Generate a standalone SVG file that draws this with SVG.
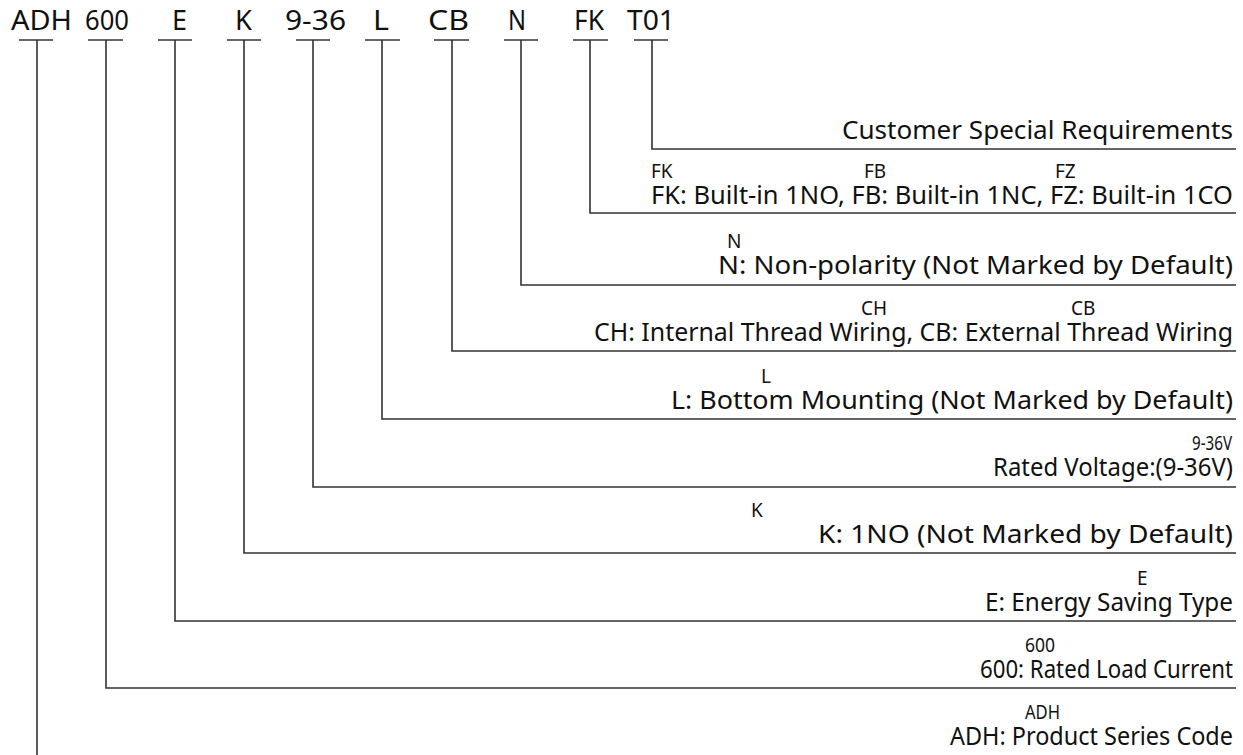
<svg xmlns="http://www.w3.org/2000/svg" width="1243" height="755" viewBox="0 0 1243 755">
<style>
.code{font-family:"Noto Sans","Open Sans",sans-serif;font-size:27px;fill:#111}
.lbl{font-family:"Noto Sans","Open Sans",sans-serif;font-size:25px;fill:#111;text-anchor:end}
.sm{font-family:"Noto Sans","Open Sans",sans-serif;font-size:19px;fill:#111}
.ul{stroke:#333;stroke-width:1.5;fill:none}
.con{stroke:#333;stroke-width:1.6;fill:none}
</style>
<rect width="1243" height="755" fill="#fff"/>
<g id="codes">
<g id="code-adh"><text class="code" x="11" y="30" textLength="61" lengthAdjust="spacingAndGlyphs">ADH</text><line class="ul" x1="19" y1="40" x2="53" y2="40"/></g>
<g id="code-600"><text class="code" x="85" y="30" textLength="44" lengthAdjust="spacingAndGlyphs">600</text><line class="ul" x1="88" y1="40" x2="123" y2="40"/></g>
<g id="code-e"><text class="code" x="172" y="30" textLength="15" lengthAdjust="spacingAndGlyphs">E</text><line class="ul" x1="158" y1="40" x2="192" y2="40"/></g>
<g id="code-k"><text class="code" x="235" y="30" textLength="17" lengthAdjust="spacingAndGlyphs">K</text><line class="ul" x1="227" y1="40" x2="261" y2="40"/></g>
<g id="code-936"><text class="code" x="285" y="30" textLength="61" lengthAdjust="spacingAndGlyphs">9-36</text><line class="ul" x1="296" y1="40" x2="330" y2="40"/></g>
<g id="code-l"><text class="code" x="373" y="30" textLength="16" lengthAdjust="spacingAndGlyphs">L</text><line class="ul" x1="365" y1="40" x2="400" y2="40"/></g>
<g id="code-cb"><text class="code" x="428" y="30" textLength="41" lengthAdjust="spacingAndGlyphs">CB</text><line class="ul" x1="434" y1="40" x2="469" y2="40"/></g>
<g id="code-n"><text class="code" x="508" y="30" textLength="18" lengthAdjust="spacingAndGlyphs">N</text><line class="ul" x1="504" y1="40" x2="538" y2="40"/></g>
<g id="code-fk"><text class="code" x="574" y="30" textLength="30" lengthAdjust="spacingAndGlyphs">FK</text><line class="ul" x1="573" y1="40" x2="608" y2="40"/></g>
<g id="code-t01"><text class="code" x="627" y="30" textLength="48" lengthAdjust="spacingAndGlyphs">T01</text><line class="ul" x1="634" y1="40" x2="668" y2="40"/></g>
</g>
<g id="connectors">
<polyline class="con" points="652,40 652,149 1236,149"/>
<polyline class="con" points="590,40 590,213 1236,213"/>
<polyline class="con" points="521,40 521,285 1236,285"/>
<polyline class="con" points="452,40 452,351 1236,351"/>
<polyline class="con" points="382,40 382,419 1236,419"/>
<polyline class="con" points="313,40 313,487 1236,487"/>
<polyline class="con" points="244,40 244,553 1236,553"/>
<polyline class="con" points="175,40 175,621 1236,621"/>
<polyline class="con" points="106,40 106,688 1236,688"/>
<polyline class="con" points="37,40 37,760 1236,760"/>
</g>
<g id="label-t01"><text class="lbl" x="1233" y="139" textLength="391" lengthAdjust="spacingAndGlyphs">Customer Special Requirements</text></g>
<g id="label-fk">
<text class="sm" x="651" y="178">FK</text><text class="sm" x="864" y="178">FB</text><text class="sm" x="1055" y="178">FZ</text>
<text class="lbl" x="1233" y="204" textLength="582" lengthAdjust="spacingAndGlyphs">FK: Built-in 1NO, FB: Built-in 1NC, FZ: Built-in 1CO</text></g>
<g id="label-n"><text class="sm" x="727" y="248">N</text>
<text class="lbl" x="1233" y="274" textLength="515" lengthAdjust="spacingAndGlyphs">N: Non-polarity (Not Marked by Default)</text></g>
<g id="label-cb"><text class="sm" x="861" y="315">CH</text><text class="sm" x="1071" y="315">CB</text>
<text class="lbl" x="1233" y="341" textLength="639" lengthAdjust="spacingAndGlyphs">CH: Internal Thread Wiring, CB: External Thread Wiring</text></g>
<g id="label-l"><text class="sm" x="761" y="383">L</text>
<text class="lbl" x="1233" y="409" textLength="562" lengthAdjust="spacingAndGlyphs">L: Bottom Mounting (Not Marked by Default)</text></g>
<g id="label-936"><text class="sm" x="1192" y="450" textLength="40" lengthAdjust="spacingAndGlyphs">9-36V</text>
<text class="lbl" x="1233" y="476" textLength="240" lengthAdjust="spacingAndGlyphs">Rated Voltage:(9-36V)</text></g>
<g id="label-k"><text class="sm" x="751" y="517">K</text>
<text class="lbl" x="1233" y="543" textLength="415" lengthAdjust="spacingAndGlyphs">K: 1NO (Not Marked by Default)</text></g>
<g id="label-e"><text class="sm" x="1137" y="585">E</text>
<text class="lbl" x="1233" y="611" textLength="248" lengthAdjust="spacingAndGlyphs">E: Energy Saving Type</text></g>
<g id="label-600"><text class="sm" x="1025" y="652" textLength="30" lengthAdjust="spacingAndGlyphs">600</text>
<text class="lbl" x="1233" y="678" textLength="253" lengthAdjust="spacingAndGlyphs">600: Rated Load Current</text></g>
<g id="label-adh"><text class="sm" x="1025" y="719" textLength="35" lengthAdjust="spacingAndGlyphs">ADH</text>
<text class="lbl" x="1233" y="745" textLength="283" lengthAdjust="spacingAndGlyphs">ADH: Product Series Code</text></g>
</svg>
